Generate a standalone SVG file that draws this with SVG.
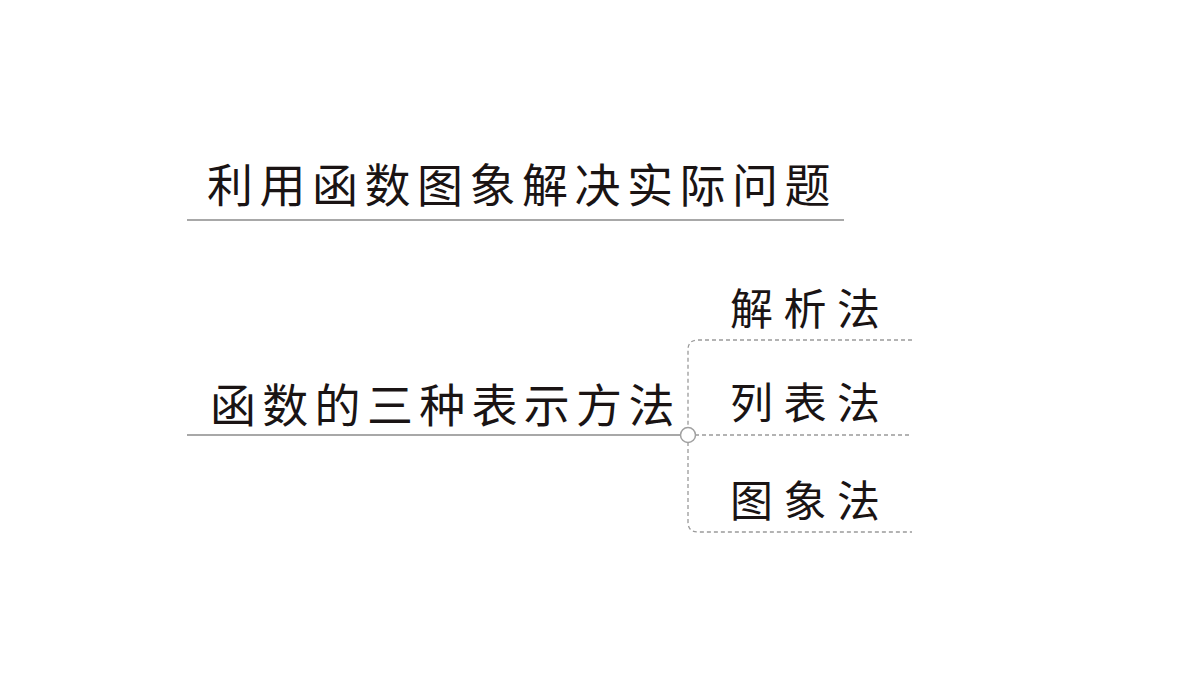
<svg xmlns="http://www.w3.org/2000/svg" width="1200" height="675" viewBox="0 0 1200 675">
<style>
.t{font-family:"Noto Sans CJK SC","Liberation Serif",sans-serif;fill:#1a1414}
.big{font-size:46px}
.sm{font-size:43px;letter-spacing:10.5px}
.solid{stroke:#a8a8a8;stroke-width:2;fill:none}
.dash{stroke:#9a9a9a;stroke-width:1.3;fill:none;stroke-dasharray:4 3}
</style>
<rect width="1200" height="675" fill="#fff"/>
<g id="connectors">
<line class="solid" x1="187" y1="220" x2="844" y2="220"/>
<line class="solid" x1="187" y1="435" x2="681" y2="435"/>
<path class="dash" d="M912 340 H698 Q688 340 688 350 V428"/>
<path class="dash" d="M688 442 V522 Q688 532 698 532 H912"/>
<line class="dash" x1="695" y1="435" x2="912" y2="435"/>
</g>
<g id="title"><text class="t big" x="207" y="202" style="letter-spacing:6.5px">利用函数图象解决实际问题</text></g>
<g id="root"><text class="t big" x="210" y="422" style="letter-spacing:6.3px">函数的三种表示方法</text>
<circle cx="688" cy="435" r="7.5" fill="#fff" stroke="#a0a0a0" stroke-width="1.5"/></g>
<g id="n1"><text class="t sm" x="730" y="325">解析法</text></g>
<g id="n2"><text class="t sm" x="730" y="419">列表法</text></g>
<g id="n3"><text class="t sm" x="730" y="517">图象法</text></g>
</svg>
